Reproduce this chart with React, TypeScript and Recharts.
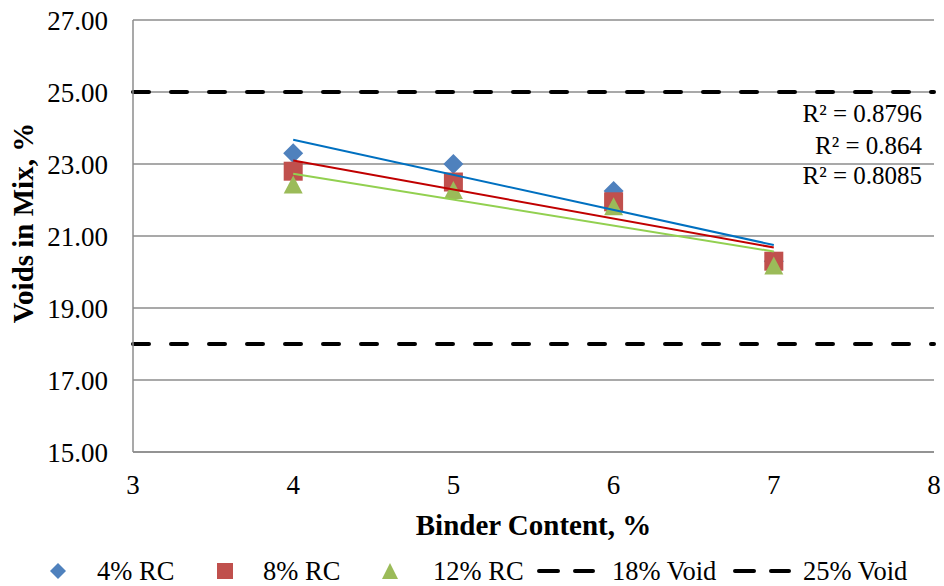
import {
  ScatterChart,
  Scatter,
  XAxis,
  YAxis,
  CartesianGrid,
  ReferenceLine,
  Label,
} from 'recharts';

const binderContent = [4, 5, 6, 7];
const rc4 = [23.3, 23.0, 22.25, 20.3];
const rc8 = [22.8, 22.5, 21.95, 20.3];
const rc12 = [22.4, 22.25, 21.8, 20.15];
const voidLimits = [18, 25];
const xTicks = [3, 4, 5, 6, 7, 8];
const yTicks = [15, 17, 19, 21, 23, 25, 27];
const rSquared = ['R² = 0.8796', 'R² = 0.864', 'R² = 0.8085'];

const FONT = '"Liberation Serif", "Times New Roman", serif';
const GRID = '#8c8c8c';

const toPoints = (ys: number[]) => binderContent.map((x, i) => ({ x, y: ys[i] }));

// least squares line, drawn between first and last binder content
function trend(ys: number[]) {
  const n = ys.length;
  const mx = binderContent.reduce((s, v) => s + v, 0) / n;
  const my = ys.reduce((s, v) => s + v, 0) / n;
  let num = 0;
  let den = 0;
  binderContent.forEach((x, i) => {
    num += (x - mx) * (ys[i] - my);
    den += (x - mx) * (x - mx);
  });
  const b = num / den;
  const a = my - b * mx;
  const x0 = binderContent[0];
  const x1 = binderContent[n - 1];
  return [
    { x: x0, y: a + b * x0 },
    { x: x1, y: a + b * x1 },
  ];
}

const Diamond = (p: any) => (
  <polygon
    points={`${p.cx},${p.cy - 10} ${p.cx + 10},${p.cy} ${p.cx},${p.cy + 10} ${p.cx - 10},${p.cy}`}
    fill="#4F81BD"
  />
);
const Square = (p: any) => (
  <rect x={p.cx - 9.5} y={p.cy - 9.5} width={19} height={19} fill="#C0504D" />
);
const Triangle = (p: any) => (
  <polygon
    points={`${p.cx},${p.cy - 10} ${p.cx + 9.5},${p.cy + 8} ${p.cx - 9.5},${p.cy + 8}`}
    fill="#9BBB59"
  />
);
const NoDot = () => <g />;

const series = [
  { name: '4% RC', values: rc4, shape: Diamond, trendColor: '#0070C0' },
  { name: '8% RC', values: rc8, shape: Square, trendColor: '#C00000' },
  { name: '12% RC', values: rc12, shape: Triangle, trendColor: '#92D050' },
];

function XTitle(props: any) {
  const { x, y, width } = props.viewBox;
  return (
    <text x={x + width / 2} y={y + 83} textAnchor="middle" fontFamily={FONT} fontSize={29} fontWeight="bold" fill="#000">
      Binder Content, %
    </text>
  );
}

function YTitle() {
  return (
    <text
      x={33}
      y={223}
      transform="rotate(-90, 33, 223)"
      textAnchor="middle"
      fontFamily={FONT}
      fontSize={29}
      fontWeight="bold"
      fill="#000"
    >
      Voids in Mix, %
    </text>
  );
}

function Overlay() {
  const txt = { fontFamily: FONT, fontSize: 26.5, fill: '#000' } as const;
  const dash = { stroke: '#000', strokeWidth: 4, strokeLinecap: 'round' as const, strokeDasharray: '19 17' };
  return (
    <svg width={944} height={586} style={{ position: 'absolute', left: 0, top: 0, pointerEvents: 'none' }}>
      {/* R² labels of the trendlines */}
      {rSquared.map((r, i) => (
        <text key={r} x={922} y={[122, 154, 184][i]} textAnchor="end" fontFamily={FONT} fontSize={25} fill="#000">
          {r}
        </text>
      ))}
      {/* legend */}
      <polygon points="58,563 66,571 58,579 50,571" fill="#4F81BD" />
      <text x={97} y={580} {...txt}>{series[0].name}</text>
      <rect x={217} y={563} width={16} height={16} fill="#C0504D" />
      <text x={263} y={580} {...txt}>{series[1].name}</text>
      <polygon points="390,563 398,579 382,579" fill="#9BBB59" />
      <text x={433} y={580} {...txt}>{series[2].name}</text>
      <line x1={539} y1={571} x2={593} y2={571} {...dash} />
      <text x={612} y={580} {...txt}>18% Void</text>
      <line x1={735} y1={571} x2={789} y2={571} {...dash} />
      <text x={803} y={580} {...txt}>25% Void</text>
    </svg>
  );
}

export default function App() {
  return (
    <div style={{ position: 'absolute', left: 0, top: 0, width: 944, height: 586, background: '#fff', fontFamily: FONT }}>
      <ScatterChart width={944} height={586} margin={{ top: 20, right: 10, bottom: 0, left: 0 }}>
        <CartesianGrid vertical={false} stroke={GRID} strokeWidth={1.5} />
        <XAxis
          type="number"
          dataKey="x"
          domain={[3, 8]}
          ticks={xTicks}
          height={134}
          tickLine={false}
          tickSize={0}
          tickMargin={23}
          axisLine={{ stroke: GRID, strokeWidth: 1.5 }}
          tick={{ fontSize: 27, fill: '#000', fontFamily: FONT }}
        >
          <Label content={XTitle} />
        </XAxis>
        <YAxis
          type="number"
          dataKey="y"
          domain={[15, 27]}
          ticks={yTicks}
          width={133}
          tickLine={false}
          tickSize={0}
          tickMargin={25}
          axisLine={{ stroke: GRID, strokeWidth: 1.5 }}
          tick={{ fontSize: 27, fill: '#000', fontFamily: FONT }}
          tickFormatter={(v: number) => v.toFixed(2)}
        >
          <Label content={YTitle} />
        </YAxis>
        {voidLimits.map((v) => (
          <ReferenceLine
            key={v}
            y={v}
            stroke="#000"
            strokeWidth={4}
            strokeLinecap="round"
            strokeDasharray="16 22"
          />
        ))}
        {series.map((s) => (
          <Scatter key={s.name} name={s.name} data={toPoints(s.values)} shape={s.shape} isAnimationActive={false} />
        ))}
        {series.map((s) => (
          <Scatter
            key={`${s.name}-trend`}
            data={trend(s.values)}
            line={{ stroke: s.trendColor, strokeWidth: 2 }}
            shape={NoDot}
            isAnimationActive={false}
          />
        ))}
      </ScatterChart>
      <Overlay />
    </div>
  );
}
